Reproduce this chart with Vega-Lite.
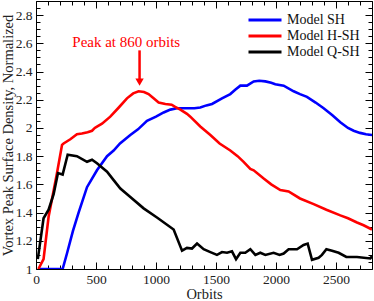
{
  "$schema": "https://vega.github.io/schema/vega-lite/v6.json",
  "width": 336,
  "height": 268,
  "autosize": {"type": "none"},
  "padding": {"left": 36, "top": 1, "right": 2, "bottom": 32},
  "config": {
    "view": {"stroke": "black", "strokeWidth": 1},
    "font": "Liberation Serif",
    "axis": {"domain": false, "grid": false, "tickColor": "black", "tickWidth": 1, "labelFont": "Liberation Serif", "labelFontSize": 13.5, "labelColor": "#222", "titleFont": "Liberation Serif", "titleFontSize": 14.5, "titleFontWeight": "normal", "titleColor": "#222"}
  },
  "datasets": {
    "lines": [
      {"model": "Model SH", "orbits": 20, "v": 1.0},
      {"model": "Model SH", "orbits": 100, "v": 1.0},
      {"model": "Model SH", "orbits": 200, "v": 1.0},
      {"model": "Model SH", "orbits": 222, "v": 1.0},
      {"model": "Model SH", "orbits": 258, "v": 1.11},
      {"model": "Model SH", "orbits": 308, "v": 1.27},
      {"model": "Model SH", "orbits": 355, "v": 1.40},
      {"model": "Model SH", "orbits": 425, "v": 1.58},
      {"model": "Model SH", "orbits": 508, "v": 1.70},
      {"model": "Model SH", "orbits": 592, "v": 1.80},
      {"model": "Model SH", "orbits": 647, "v": 1.84},
      {"model": "Model SH", "orbits": 700, "v": 1.89},
      {"model": "Model SH", "orbits": 786, "v": 1.95},
      {"model": "Model SH", "orbits": 850, "v": 1.99},
      {"model": "Model SH", "orbits": 925, "v": 2.05},
      {"model": "Model SH", "orbits": 1000, "v": 2.08},
      {"model": "Model SH", "orbits": 1064, "v": 2.11},
      {"model": "Model SH", "orbits": 1120, "v": 2.13},
      {"model": "Model SH", "orbits": 1175, "v": 2.14},
      {"model": "Model SH", "orbits": 1258, "v": 2.14},
      {"model": "Model SH", "orbits": 1320, "v": 2.14},
      {"model": "Model SH", "orbits": 1369, "v": 2.145},
      {"model": "Model SH", "orbits": 1420, "v": 2.16},
      {"model": "Model SH", "orbits": 1467, "v": 2.17},
      {"model": "Model SH", "orbits": 1550, "v": 2.21},
      {"model": "Model SH", "orbits": 1619, "v": 2.24},
      {"model": "Model SH", "orbits": 1660, "v": 2.27},
      {"model": "Model SH", "orbits": 1703, "v": 2.30},
      {"model": "Model SH", "orbits": 1758, "v": 2.30},
      {"model": "Model SH", "orbits": 1814, "v": 2.33},
      {"model": "Model SH", "orbits": 1860, "v": 2.335},
      {"model": "Model SH", "orbits": 1911, "v": 2.33},
      {"model": "Model SH", "orbits": 1960, "v": 2.32},
      {"model": "Model SH", "orbits": 1994, "v": 2.31},
      {"model": "Model SH", "orbits": 2064, "v": 2.30},
      {"model": "Model SH", "orbits": 2147, "v": 2.26},
      {"model": "Model SH", "orbits": 2200, "v": 2.24},
      {"model": "Model SH", "orbits": 2258, "v": 2.22},
      {"model": "Model SH", "orbits": 2330, "v": 2.18},
      {"model": "Model SH", "orbits": 2397, "v": 2.14},
      {"model": "Model SH", "orbits": 2470, "v": 2.09},
      {"model": "Model SH", "orbits": 2536, "v": 2.04},
      {"model": "Model SH", "orbits": 2600, "v": 2.00},
      {"model": "Model SH", "orbits": 2647, "v": 1.98},
      {"model": "Model SH", "orbits": 2700, "v": 1.965},
      {"model": "Model SH", "orbits": 2750, "v": 1.955},
      {"model": "Model SH", "orbits": 2800, "v": 1.95},

      {"model": "Model H-SH", "orbits": 20, "v": 1.0},
      {"model": "Model H-SH", "orbits": 63, "v": 1.07},
      {"model": "Model H-SH", "orbits": 105, "v": 1.37},
      {"model": "Model H-SH", "orbits": 175, "v": 1.68},
      {"model": "Model H-SH", "orbits": 217, "v": 1.88},
      {"model": "Model H-SH", "orbits": 230, "v": 1.89},
      {"model": "Model H-SH", "orbits": 286, "v": 1.92},
      {"model": "Model H-SH", "orbits": 341, "v": 1.955},
      {"model": "Model H-SH", "orbits": 383, "v": 1.96},
      {"model": "Model H-SH", "orbits": 430, "v": 1.97},
      {"model": "Model H-SH", "orbits": 467, "v": 1.98},
      {"model": "Model H-SH", "orbits": 490, "v": 2.00},
      {"model": "Model H-SH", "orbits": 508, "v": 2.01},
      {"model": "Model H-SH", "orbits": 550, "v": 2.03},
      {"model": "Model H-SH", "orbits": 619, "v": 2.08},
      {"model": "Model H-SH", "orbits": 690, "v": 2.145},
      {"model": "Model H-SH", "orbits": 758, "v": 2.21},
      {"model": "Model H-SH", "orbits": 810, "v": 2.245},
      {"model": "Model H-SH", "orbits": 855, "v": 2.26},
      {"model": "Model H-SH", "orbits": 900, "v": 2.255},
      {"model": "Model H-SH", "orbits": 938, "v": 2.24},
      {"model": "Model H-SH", "orbits": 980, "v": 2.21},
      {"model": "Model H-SH", "orbits": 1022, "v": 2.18},
      {"model": "Model H-SH", "orbits": 1078, "v": 2.17},
      {"model": "Model H-SH", "orbits": 1130, "v": 2.165},
      {"model": "Model H-SH", "orbits": 1160, "v": 2.15},
      {"model": "Model H-SH", "orbits": 1203, "v": 2.13},
      {"model": "Model H-SH", "orbits": 1258, "v": 2.10},
      {"model": "Model H-SH", "orbits": 1286, "v": 2.08},
      {"model": "Model H-SH", "orbits": 1369, "v": 2.01},
      {"model": "Model H-SH", "orbits": 1453, "v": 1.95},
      {"model": "Model H-SH", "orbits": 1530, "v": 1.89},
      {"model": "Model H-SH", "orbits": 1619, "v": 1.84},
      {"model": "Model H-SH", "orbits": 1680, "v": 1.80},
      {"model": "Model H-SH", "orbits": 1730, "v": 1.76},
      {"model": "Model H-SH", "orbits": 1786, "v": 1.71},
      {"model": "Model H-SH", "orbits": 1814, "v": 1.70},
      {"model": "Model H-SH", "orbits": 1900, "v": 1.64},
      {"model": "Model H-SH", "orbits": 1960, "v": 1.60},
      {"model": "Model H-SH", "orbits": 2036, "v": 1.56},
      {"model": "Model H-SH", "orbits": 2105, "v": 1.55},
      {"model": "Model H-SH", "orbits": 2200, "v": 1.50},
      {"model": "Model H-SH", "orbits": 2314, "v": 1.46},
      {"model": "Model H-SH", "orbits": 2420, "v": 1.42},
      {"model": "Model H-SH", "orbits": 2536, "v": 1.38},
      {"model": "Model H-SH", "orbits": 2600, "v": 1.36},
      {"model": "Model H-SH", "orbits": 2675, "v": 1.33},
      {"model": "Model H-SH", "orbits": 2730, "v": 1.31},
      {"model": "Model H-SH", "orbits": 2800, "v": 1.28},

      {"model": "Model Q-SH", "orbits": 15, "v": 1.07},
      {"model": "Model Q-SH", "orbits": 63, "v": 1.36},
      {"model": "Model Q-SH", "orbits": 105, "v": 1.42},
      {"model": "Model Q-SH", "orbits": 147, "v": 1.53},
      {"model": "Model Q-SH", "orbits": 183, "v": 1.68},
      {"model": "Model Q-SH", "orbits": 222, "v": 1.67},
      {"model": "Model Q-SH", "orbits": 264, "v": 1.81},
      {"model": "Model Q-SH", "orbits": 341, "v": 1.80},
      {"model": "Model Q-SH", "orbits": 425, "v": 1.76},
      {"model": "Model Q-SH", "orbits": 467, "v": 1.775},
      {"model": "Model Q-SH", "orbits": 508, "v": 1.75},
      {"model": "Model Q-SH", "orbits": 592, "v": 1.69},
      {"model": "Model Q-SH", "orbits": 647, "v": 1.63},
      {"model": "Model Q-SH", "orbits": 703, "v": 1.57},
      {"model": "Model Q-SH", "orbits": 786, "v": 1.51},
      {"model": "Model Q-SH", "orbits": 897, "v": 1.43},
      {"model": "Model Q-SH", "orbits": 1008, "v": 1.365},
      {"model": "Model Q-SH", "orbits": 1147, "v": 1.28},
      {"model": "Model Q-SH", "orbits": 1217, "v": 1.13},
      {"model": "Model Q-SH", "orbits": 1258, "v": 1.15},
      {"model": "Model Q-SH", "orbits": 1300, "v": 1.145},
      {"model": "Model Q-SH", "orbits": 1342, "v": 1.18},
      {"model": "Model Q-SH", "orbits": 1397, "v": 1.14},
      {"model": "Model Q-SH", "orbits": 1453, "v": 1.12},
      {"model": "Model Q-SH", "orbits": 1508, "v": 1.10},
      {"model": "Model Q-SH", "orbits": 1550, "v": 1.12},
      {"model": "Model Q-SH", "orbits": 1592, "v": 1.115},
      {"model": "Model Q-SH", "orbits": 1633, "v": 1.125},
      {"model": "Model Q-SH", "orbits": 1667, "v": 1.07},
      {"model": "Model Q-SH", "orbits": 1703, "v": 1.115},
      {"model": "Model Q-SH", "orbits": 1744, "v": 1.115},
      {"model": "Model Q-SH", "orbits": 1786, "v": 1.14},
      {"model": "Model Q-SH", "orbits": 1828, "v": 1.10},
      {"model": "Model Q-SH", "orbits": 1869, "v": 1.115},
      {"model": "Model Q-SH", "orbits": 1911, "v": 1.10},
      {"model": "Model Q-SH", "orbits": 1980, "v": 1.115},
      {"model": "Model Q-SH", "orbits": 2030, "v": 1.10},
      {"model": "Model Q-SH", "orbits": 2064, "v": 1.11},
      {"model": "Model Q-SH", "orbits": 2105, "v": 1.14},
      {"model": "Model Q-SH", "orbits": 2175, "v": 1.14},
      {"model": "Model Q-SH", "orbits": 2230, "v": 1.17},
      {"model": "Model Q-SH", "orbits": 2264, "v": 1.18},
      {"model": "Model Q-SH", "orbits": 2300, "v": 1.065},
      {"model": "Model Q-SH", "orbits": 2355, "v": 1.08},
      {"model": "Model Q-SH", "orbits": 2383, "v": 1.10},
      {"model": "Model Q-SH", "orbits": 2420, "v": 1.14},
      {"model": "Model Q-SH", "orbits": 2467, "v": 1.13},
      {"model": "Model Q-SH", "orbits": 2522, "v": 1.115},
      {"model": "Model Q-SH", "orbits": 2586, "v": 1.085},
      {"model": "Model Q-SH", "orbits": 2675, "v": 1.085},
      {"model": "Model Q-SH", "orbits": 2786, "v": 1.075},
      {"model": "Model Q-SH", "orbits": 2800, "v": 1.09}
    ],
    "note": [{"orbits": 752, "v": 2.606, "label": "Peak at 860 orbits"}],
    "arrow": [{"orbits": 863, "v": 2.55, "v2": 2.34}],
    "head": [{"orbits": 863, "v": 2.325}]
  },
  "layer": [
    {
      "data": {"name": "lines"},
      "mark": {"type": "line", "strokeWidth": 2.6, "clip": true},
      "encoding": {
        "x": {
          "field": "orbits", "type": "quantitative",
          "scale": {"domain": [0, 2800], "nice": false, "zero": false},
          "axis": {
            "orient": "bottom", "title": "Orbits", "titleBaseline": "alphabetic", "titleY": 29,
            "values": [0,100,200,300,400,500,600,700,800,900,1000,1100,1200,1300,1400,1500,1600,1700,1800,1900,2000,2100,2200,2300,2400,2500,2600,2700,2800],
            "labelExpr": "datum.value % 500 === 0 ? format(datum.value, 'd') : ''",
            "tickSize": {"condition": {"test": "datum.value % 500 === 0", "value": -7}, "value": -4},
            "labelPadding": 10, "labelFlush": false, "labelOverlap": false
          }
        },
        "y": {
          "field": "v", "type": "quantitative",
          "scale": {"domain": [1, 2.9], "nice": false, "zero": false},
          "axis": {
            "orient": "left", "title": "Vortex Peak Surface Density, Normalized", "titlePadding": 0,
            "values": [1,1.05,1.1,1.15,1.2,1.25,1.3,1.35,1.4,1.45,1.5,1.55,1.6,1.65,1.7,1.75,1.8,1.85,1.9,1.95,2,2.05,2.1,2.15,2.2,2.25,2.3,2.35,2.4,2.45,2.5,2.55,2.6,2.65,2.7,2.75,2.8,2.85,2.9],
            "labelExpr": "abs(datum.value*5 - round(datum.value*5)) < 0.001 ? format(datum.value, '~g') : ''",
            "tickSize": {"condition": {"test": "abs(datum.value*5 - round(datum.value*5)) < 0.001", "value": -7}, "value": -4},
            "labelPadding": 11, "labelFlush": false, "labelOverlap": false
          }
        },
        "color": {
          "field": "model", "type": "nominal",
          "scale": {"domain": ["Model SH", "Model H-SH", "Model Q-SH"], "range": ["#0000ff", "#ff0000", "#000000"]},
          "legend": {
            "title": null, "orient": "top-right", "offset": 12, "padding": 0,
            "symbolType": "M-3,0L3,0", "symbolSize": 121, "symbolStrokeWidth": 3,
            "labelFont": "Liberation Serif", "labelFontSize": 14, "labelColor": "#111",
            "labelOffset": 15, "rowPadding": 2
          }
        }
      }
    },
    {
      "data": {"name": "note"},
      "mark": {"type": "text", "color": "#ff0000", "fontSize": 15, "font": "Liberation Serif", "align": "center", "baseline": "middle"},
      "encoding": {
        "x": {"field": "orbits", "type": "quantitative", "axis": null},
        "y": {"field": "v", "type": "quantitative", "axis": null},
        "text": {"field": "label"}
      }
    },
    {
      "data": {"name": "arrow"},
      "mark": {"type": "rule", "color": "#ff0000", "strokeWidth": 2.5},
      "encoding": {
        "x": {"field": "orbits", "type": "quantitative", "axis": null},
        "y": {"field": "v", "type": "quantitative", "axis": null},
        "y2": {"field": "v2"}
      }
    },
    {
      "data": {"name": "head"},
      "mark": {"type": "point", "shape": "triangle-down", "filled": true, "color": "#ff0000", "size": 70, "opacity": 1},
      "encoding": {
        "x": {"field": "orbits", "type": "quantitative", "axis": null},
        "y": {"field": "v", "type": "quantitative", "axis": null}
      }
    },
    {
      "data": {"name": "lines"},
      "mark": {"type": "line", "opacity": 0},
      "encoding": {
        "x": {
          "field": "orbits", "type": "quantitative",
          "axis": {
            "orient": "top", "title": null, "labels": false,
            "values": [0,100,200,300,400,500,600,700,800,900,1000,1100,1200,1300,1400,1500,1600,1700,1800,1900,2000,2100,2200,2300,2400,2500,2600,2700,2800],
            "tickSize": {"condition": {"test": "datum.value % 500 === 0", "value": -7}, "value": -4}
          }
        },
        "y": {
          "field": "v", "type": "quantitative",
          "axis": {
            "orient": "right", "title": null, "labels": false,
            "values": [1,1.05,1.1,1.15,1.2,1.25,1.3,1.35,1.4,1.45,1.5,1.55,1.6,1.65,1.7,1.75,1.8,1.85,1.9,1.95,2,2.05,2.1,2.15,2.2,2.25,2.3,2.35,2.4,2.45,2.5,2.55,2.6,2.65,2.7,2.75,2.8,2.85,2.9],
            "tickSize": {"condition": {"test": "abs(datum.value*5 - round(datum.value*5)) < 0.001", "value": -7}, "value": -4}
          }
        }
      }
    }
  ],
  "resolve": {"axis": {"x": "independent", "y": "independent"}}
}
